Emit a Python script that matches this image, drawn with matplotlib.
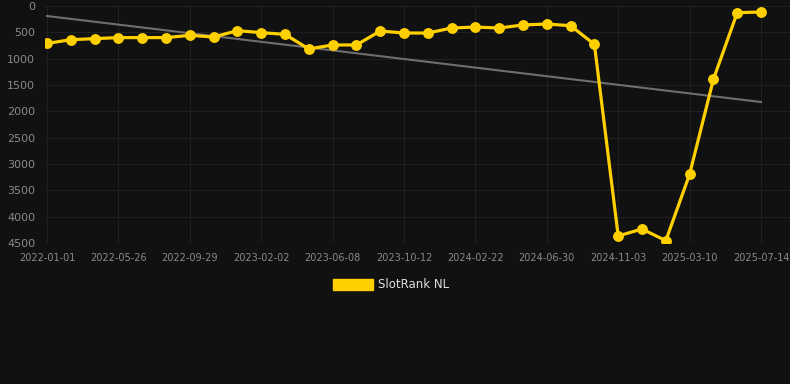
import matplotlib.pyplot as plt

# rank values, one point per period (lower is better, axis is inverted)
ranks = [710, 640, 620, 600, 600, 600, 557, 588, 468, 506, 538,
         816, 740, 740, 475, 513, 513, 418, 400, 418, 360, 342,
         374, 728, 4367, 4234, 4456, 3196, 1393, 127, 114]
tick_idx = [0, 3, 6, 9, 12, 15, 18, 21, 24, 27, 30]
tick_labels = ['2022-01-01', '2022-05-26', '2022-09-29', '2023-02-02',
               '2023-06-08', '2023-10-12', '2024-02-22', '2024-06-30',
               '2024-11-03', '2025-03-10', '2025-07-14']
trend = [190, 1823]  # start / end of the trend line

bg = '#111111'
fig = plt.figure(figsize=(7.9, 3.84), dpi=100, facecolor=bg)
ax = fig.add_axes([45 / 790, 1 - 243 / 384, 745 / 790, 237 / 384], facecolor=bg)

xs = list(range(len(ranks)))
ax.plot([xs[0], xs[-1]], trend, color='#6e6e6e', lw=1.5, zorder=2)
ax.plot(xs, ranks, color='#ffd000', lw=2.3, marker='o', markersize=6.8,
        zorder=3, label='SlotRank NL')

ax.set_xlim(-2 / 23.8, 30 + 29 / 23.8)
ax.set_ylim(4500, 0)
ax.set_yticks(range(0, 5000, 500))
ax.set_xticks(tick_idx)
ax.set_xticklabels(tick_labels)
ax.grid(True, color='#202020', lw=0.8)
ax.set_axisbelow(True)
for s in ax.spines.values():
    s.set_visible(False)
ax.tick_params(axis='y', length=0, pad=7, labelsize=8, colors='#8a8a8a')
ax.tick_params(axis='x', length=0, pad=7, labelsize=7, colors='#8a8a8a')

leg = fig.legend(handles=[plt.Rectangle((0, 0), 1, 1, color='#ffd000')],
                 labels=['SlotRank NL'], loc='center', bbox_to_anchor=(391 / 790, 1 - 285 / 384),
                 frameon=False, handlelength=3.4, handleheight=1.0, handletextpad=0.4,
                 fontsize=8.5)
for t in leg.get_texts():
    t.set_color('#dddddd')

fig.savefig('out.png', facecolor=bg)
